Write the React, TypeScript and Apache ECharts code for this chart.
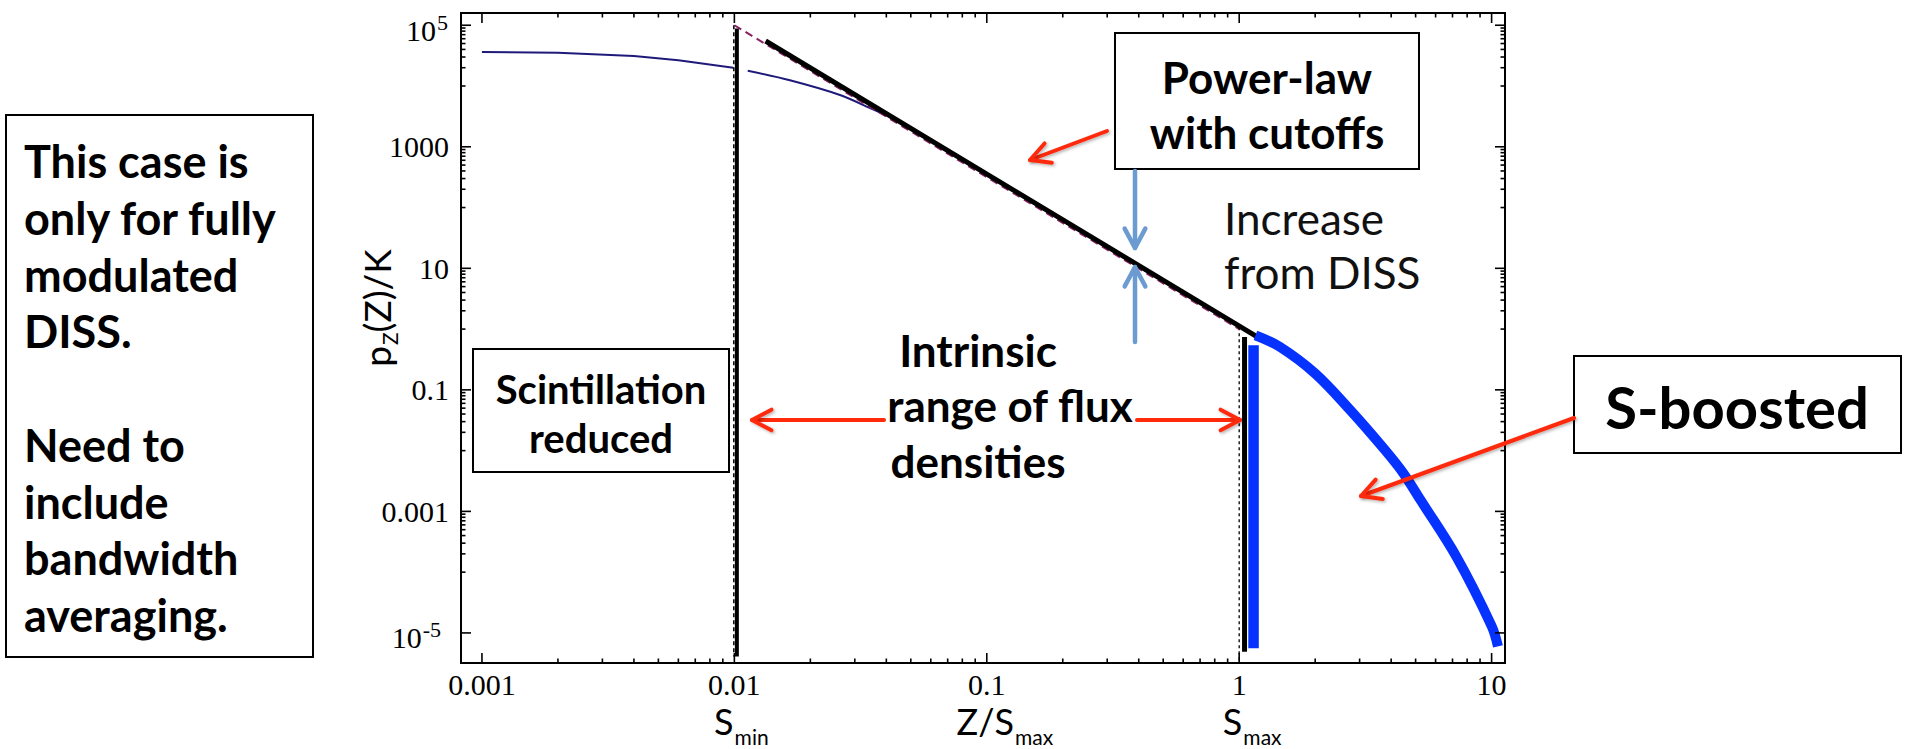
import React, { useEffect, useRef } from "react";
import * as echarts from "echarts";

// ---------- axis extents (data units) ----------
const X_MIN = 0.000826;
const X_MAX = 11.3;
const Y_MIN = 3.2e-6;
const Y_MAX = 1.59e5;

// ---------- ticks & tick labels ----------
const xMajorValues = [0.001, 0.01, 0.1, 1, 10];
const xMajorLabels = ["0.001", "0.01", "0.1", "1", "10"];
const xMinorDecades = [0.001, 0.01, 0.1, 1];
const xMinorMultipliers = [2, 3, 4, 5, 6, 7, 8, 9];
const yMajorValues = [1e5, 1e3, 10, 0.1, 0.001, 1e-5];
const yMajorBase = ["10", "1000", "10", "0.1", "0.001", "10"];
const yMajorSup = ["5", "", "", "", "", "-5"];
const yMinorDecades = [1e4, 100, 1, 0.01, 1e-4];
const yMinorMultipliers = [1, 2, 3, 4, 5, 6, 7, 8, 9];

// notes written under some x ticks
const xNoteValues = [0.01, 0.1, 1];
const xNoteMain = ["S", "Z/S", "S"];
const xNoteSub = ["min", "max", "max"];

// ---------- series data ----------
const navyLeftX = [0.001, 0.002, 0.004, 0.006, 0.0099];
const navyLeftY = [36400, 35100, 31300, 26500, 19900];
const navyRightX = [0.0113, 0.0166, 0.0262, 0.035, 0.045, 0.1, 0.3, 1.0];
const navyRightY = [17800, 12400, 7100, 4200, 2600, 345, 22, 1.1];

const guideX = [0.01, 1.0];
const guideY = [100000, 1.0];

const powerLawX = [0.0133, 1.17];
const powerLawY = [55000, 0.76];

const boostedX = [1.16, 1.45, 2.0, 2.76, 3.8, 4.48, 5.25, 7.25, 10, 10.6];
const boostedY = [0.79, 0.51, 0.186, 0.046, 0.01, 0.0042, 0.0015, 0.00018, 0.000013, 0.000006];

const sMinBarX = [0.01023, 0.01023];
const sMinBarY = [88000, 0.0000041];
const sMinDashX = [0.00995, 0.00995];
const sMinDashY = [100000, 0.0000041];
const sMaxDashX = [1.0, 1.0];
const sMaxDashY = [1.07, 0.0000033];
const sMaxBarX = [1.05, 1.05];
const sMaxBarY = [0.74, 0.0000049];
const boostBarX = [1.14, 1.14];
const boostBarY = [0.54, 0.0000056];

const zip = (xs: number[], ys: number[]) => xs.map((x, i) => [x, ys[i]]);

// ---------- styling ----------
const TICK_FONT = '30px "Liberation Serif"';
const SUP_FONT = '22px "Liberation Serif"';
const NOTE_FONT = "36px Lato";
const NOTE_SUB_FONT = "21px Lato";
const BOLD_44 = "bold 44px Lato";
const RED = "#fe2a0a";
const STEEL = "#6b9bd1";
const BLUE = "#0532ff";
const NAVY = "#1f1a7a";

let measureCtx: CanvasRenderingContext2D | null = null;
function textWidth(t: string, font: string): number {
  if (!measureCtx) measureCtx = document.createElement("canvas").getContext("2d");
  if (!measureCtx) return t.length * 15;
  measureCtx.font = font;
  return measureCtx.measureText(t).width;
}

function arrow(x1: number, y1: number, x2: number, y2: number, color: string, width: number, headLen: number, shadow: boolean) {
  const ang = Math.atan2(y2 - y1, x2 - x1);
  const ha = (28 * Math.PI) / 180;
  const a1 = ang + Math.PI - ha;
  const a2 = ang + Math.PI + ha;
  const h1 = [x2 + headLen * Math.cos(a1), y2 + headLen * Math.sin(a1)];
  const h2 = [x2 + headLen * Math.cos(a2), y2 + headLen * Math.sin(a2)];
  const base: any = {
    stroke: color,
    lineWidth: width,
    lineCap: "round",
    lineJoin: "round",
    fill: "none",
  };
  const shaded: any = { ...base };
  if (shadow) {
    shaded.shadowBlur = 3;
    shaded.shadowColor = "rgba(0,0,0,0.3)";
    shaded.shadowOffsetX = 1.5;
    shaded.shadowOffsetY = 1.5;
  }
  // a filter on a perfectly horizontal/vertical line would hide it in SVG
  const axisAligned = Math.abs(x2 - x1) < 0.5 || Math.abs(y2 - y1) < 0.5;
  return [
    { type: "line", z: 100, silent: true, shape: { x1, y1, x2, y2 }, style: axisAligned ? base : shaded },
    { type: "polyline", z: 100, silent: true, shape: { points: [h1, [x2, y2], h2] }, style: shaded },
  ];
}

function box(x: number, y: number, w: number, h: number) {
  return {
    type: "rect",
    z: 90,
    silent: true,
    shape: { x, y, width: w, height: h },
    style: { fill: "#fff", stroke: "#000", lineWidth: 2 },
  };
}

function label(text: string, x: number, y: number, font: string, align = "center", fill = "#000") {
  return {
    type: "text",
    z: 101,
    silent: true,
    x,
    y,
    style: { text, font, fill, align, verticalAlign: "middle" },
  };
}

function buildOption() {
  // tick marks: [x, y, side(0 bottom,1 top,2 left,3 right), length]
  const tickData: number[][] = [];
  xMajorValues.forEach((v) => {
    tickData.push([v, Y_MIN, 0, 10]);
    tickData.push([v, Y_MAX, 1, 10]);
  });
  xMinorDecades.forEach((d) =>
    xMinorMultipliers.forEach((m) => {
      const v = d * m;
      tickData.push([v, Y_MIN, 0, 4.5]);
      tickData.push([v, Y_MAX, 1, 4.5]);
    })
  );
  yMajorValues.forEach((v) => {
    tickData.push([X_MIN, v, 2, 10]);
    tickData.push([X_MAX, v, 3, 10]);
  });
  yMinorDecades.forEach((d) =>
    yMinorMultipliers.forEach((m) => {
      const v = d * m;
      if (v > Y_MAX || v < Y_MIN) return;
      tickData.push([X_MIN, v, 2, 4.5]);
      tickData.push([X_MAX, v, 3, 4.5]);
    })
  );

  const xLabelData = xMajorValues.map((v, i) => [v, Y_MIN, i]);
  const yLabelData = yMajorValues.map((v, i) => [X_MIN, v, i]);
  const noteData = xNoteValues.map((v, i) => [v, Y_MIN, i]);
  const noteShift = [7, 18, 13];

  const lineBase = {
    type: "line",
    showSymbol: false,
    symbol: "none",
    silent: true,
    emphasis: { disabled: true },
  };

  const series: any[] = [
    { ...lineBase, name: "navy-left", z: 2, data: zip(navyLeftX, navyLeftY), lineStyle: { color: NAVY, width: 2 } },
    { ...lineBase, name: "navy-right", z: 2, smooth: 0.3, data: zip(navyRightX, navyRightY), lineStyle: { color: NAVY, width: 2 } },
    { ...lineBase, name: "guide", z: 3, data: zip(guideX, guideY), lineStyle: { color: "#8b2063", width: 2, type: [8, 5] } },
    { ...lineBase, name: "power-law", z: 4, data: zip(powerLawX, powerLawY), lineStyle: { color: "#000", width: 5 } },
    { ...lineBase, name: "smin-dash", z: 4, data: zip(sMinDashX, sMinDashY), lineStyle: { color: "#000", width: 1.5, type: [4, 3] } },
    { ...lineBase, name: "smin-bar", z: 5, data: zip(sMinBarX, sMinBarY), lineStyle: { color: "#000", width: 4 } },
    { ...lineBase, name: "smax-dash", z: 4, data: zip(sMaxDashX, sMaxDashY), lineStyle: { color: "#000", width: 1.3, type: [3, 3] } },
    { ...lineBase, name: "smax-bar", z: 5, data: zip(sMaxBarX, sMaxBarY), lineStyle: { color: "#000", width: 5 } },
    { ...lineBase, name: "boost-bar", z: 6, data: zip(boostBarX, boostBarY), lineStyle: { color: BLUE, width: 10.5 } },
    { ...lineBase, name: "s-boosted", z: 6, smooth: 0.35, data: zip(boostedX, boostedY), lineStyle: { color: BLUE, width: 10 } },
    {
      type: "custom",
      name: "ticks",
      coordinateSystem: "cartesian2d",
      clip: false,
      silent: true,
      z: 20,
      data: tickData,
      encode: { x: 0, y: 1 },
      renderItem: (params: any, api: any) => {
        const p = api.coord([api.value(0), api.value(1)]);
        const side = api.value(2);
        const len = api.value(3);
        let x2 = p[0];
        let y2 = p[1];
        if (side === 0) y2 -= len;
        else if (side === 1) y2 += len;
        else if (side === 2) x2 += len;
        else x2 -= len;
        return {
          type: "line",
          shape: { x1: p[0], y1: p[1], x2, y2 },
          style: { stroke: "#000", lineWidth: 1.6 },
        };
      },
    },
    {
      type: "custom",
      name: "x-labels",
      coordinateSystem: "cartesian2d",
      clip: false,
      silent: true,
      z: 20,
      data: xLabelData,
      encode: { x: 0, y: 1 },
      renderItem: (params: any, api: any) => {
        const i = api.value(2);
        const p = api.coord([api.value(0), api.value(1)]);
        return {
          type: "text",
          x: p[0],
          y: p[1] + 21,
          style: { text: xMajorLabels[i], font: TICK_FONT, fill: "#000", align: "center", verticalAlign: "middle" },
        };
      },
    },
    {
      type: "custom",
      name: "y-labels",
      coordinateSystem: "cartesian2d",
      clip: false,
      silent: true,
      z: 20,
      data: yLabelData,
      encode: { x: 0, y: 1 },
      renderItem: (params: any, api: any) => {
        const i = api.value(2);
        const p = api.coord([api.value(0), api.value(1)]);
        const right = p[0] - 12;
        const sup = yMajorSup[i];
        const children: any[] = [];
        if (sup) {
          const supRight = sup.charAt(0) === "-" ? right - 8 : right - 1;
          const sw = textWidth(sup, SUP_FONT);
          children.push({
            type: "text",
            x: supRight,
            y: p[1] - 3,
            style: { text: sup, font: SUP_FONT, fill: "#000", align: "right", verticalAlign: "middle" },
          });
          children.push({
            type: "text",
            x: supRight - sw - 1,
            y: p[1] + 5,
            style: { text: yMajorBase[i], font: TICK_FONT, fill: "#000", align: "right", verticalAlign: "middle" },
          });
        } else {
          children.push({
            type: "text",
            x: right,
            y: p[1],
            style: { text: yMajorBase[i], font: TICK_FONT, fill: "#000", align: "right", verticalAlign: "middle" },
          });
        }
        return { type: "group", children };
      },
    },
    {
      type: "custom",
      name: "x-notes",
      coordinateSystem: "cartesian2d",
      clip: false,
      silent: true,
      z: 20,
      data: noteData,
      encode: { x: 0, y: 1 },
      renderItem: (params: any, api: any) => {
        const i = api.value(2);
        const p = api.coord([api.value(0), api.value(1)]);
        const wm = textWidth(xNoteMain[i], NOTE_FONT);
        const ws = textWidth(xNoteSub[i], NOTE_SUB_FONT);
        const left = p[0] + noteShift[i] - (wm + ws + 1) / 2;
        return {
          type: "group",
          children: [
            {
              type: "text",
              x: left,
              y: p[1] + 58,
              style: { text: xNoteMain[i], font: NOTE_FONT, fill: "#000", align: "left", verticalAlign: "middle" },
            },
            {
              type: "text",
              x: left + wm + 1,
              y: p[1] + 73,
              style: { text: xNoteSub[i], font: NOTE_SUB_FONT, fill: "#000", align: "left", verticalAlign: "middle" },
            },
          ],
        };
      },
    },
  ];

  // ---- y-axis title (rotated) ----
  const tMainFont = "37px Lato";
  const tSubFont = "21px Lato";
  const wp = textWidth("p", tMainFont);
  const wz = textWidth("Z", tSubFont);
  const wr = textWidth("(Z)/K", tMainFont);
  const tW = wp + wz + wr + 1;
  const tx0 = -tW / 2;
  const yTitle = {
    type: "group",
    x: 376,
    y: 308,
    rotation: Math.PI / 2,
    z: 100,
    silent: true,
    children: [
      { type: "text", z: 100, x: tx0, y: 0, style: { text: "p", font: tMainFont, fill: "#000", align: "left", verticalAlign: "middle" } },
      { type: "text", z: 100, x: tx0 + wp + 1, y: 13, style: { text: "Z", font: tSubFont, fill: "#000", align: "left", verticalAlign: "middle" } },
      { type: "text", z: 100, x: tx0 + wp + wz + 1, y: 0, style: { text: "(Z)/K", font: tMainFont, fill: "#000", align: "left", verticalAlign: "middle" } },
    ],
  };

  const leftNote =
    "This case is\nonly for fully\nmodulated\nDISS.\n\nNeed to\ninclude\nbandwidth\naveraging.";

  const elements: any[] = [
    yTitle,
    // left explanatory box
    box(6, 115, 307, 542),
    {
      type: "text",
      z: 101,
      silent: true,
      x: 24,
      y: 133,
      style: {
        text: leftNote,
        font: "bold 45px Lato",
        fill: "#000",
        align: "left",
        verticalAlign: "top",
        lineHeight: 56.7,
      },
    },
    // Scintillation reduced
    box(473, 349, 256, 123),
    {
      type: "text",
      z: 101,
      silent: true,
      x: 601,
      y: 413,
      style: {
        text: "Scintillation\nreduced",
        font: "bold 40px Lato",
        fill: "#000",
        align: "center",
        verticalAlign: "middle",
        lineHeight: 49,
      },
    },
    // Power-law with cutoffs
    box(1115, 33, 304, 136),
    {
      type: "text",
      z: 101,
      silent: true,
      x: 1267,
      y: 104,
      style: {
        text: "Power-law\nwith cutoffs",
        font: BOLD_44,
        fill: "#000",
        align: "center",
        verticalAlign: "middle",
        lineHeight: 55,
      },
    },
    // Increase from DISS
    {
      type: "text",
      z: 101,
      silent: true,
      x: 1224,
      y: 245,
      style: {
        text: "Increase\nfrom DISS",
        font: "44px Lato",
        fill: "#111",
        align: "left",
        verticalAlign: "middle",
        lineHeight: 54,
      },
    },
    // Intrinsic range of flux densities
    label("Intrinsic", 978, 350, BOLD_44),
    label("range of flux", 1010, 405, BOLD_44),
    label("densities", 978, 461, BOLD_44),
    // S-boosted
    box(1574, 356, 327, 97),
    label("S-boosted", 1737, 406, "bold 58px Lato"),
    // arrows
    ...arrow(1107, 131, 1030, 160, RED, 4, 22, true),
    ...arrow(884, 420, 752, 420, RED, 4, 22, true),
    ...arrow(1137, 420, 1240, 420, RED, 4, 22, true),
    ...arrow(1574, 418, 1361, 496, RED, 4, 22, true),
    ...arrow(1135, 171, 1135, 248, STEEL, 4.5, 22, false),
    ...arrow(1135, 342, 1135, 267, STEEL, 4.5, 22, false),
  ];

  return {
    animation: false,
    backgroundColor: "#fff",
    grid: {
      left: 461,
      right: 401,
      top: 13,
      bottom: 86,
      show: true,
      borderColor: "#000",
      borderWidth: 2,
      backgroundColor: "transparent",
    },
    xAxis: {
      type: "log",
      logBase: 10,
      min: X_MIN,
      max: X_MAX,
      axisLine: { show: false },
      axisTick: { show: false },
      axisLabel: { show: false },
      splitLine: { show: false },
    },
    yAxis: {
      type: "log",
      logBase: 10,
      min: Y_MIN,
      max: Y_MAX,
      axisLine: { show: false },
      axisTick: { show: false },
      axisLabel: { show: false },
      splitLine: { show: false },
    },
    series,
    graphic: { elements },
  };
}

export default function App() {
  const ref = useRef<HTMLDivElement>(null);
  useEffect(() => {
    if (!ref.current) return;
    const chart = echarts.init(ref.current, undefined, { renderer: "svg" });
    chart.setOption(buildOption() as any);
    return () => {
      chart.dispose();
    };
  }, []);
  return (
    <div
      ref={ref}
      style={{ position: "fixed", left: 0, top: 0, width: 1906, height: 749, background: "#fff" }}
    />
  );
}
